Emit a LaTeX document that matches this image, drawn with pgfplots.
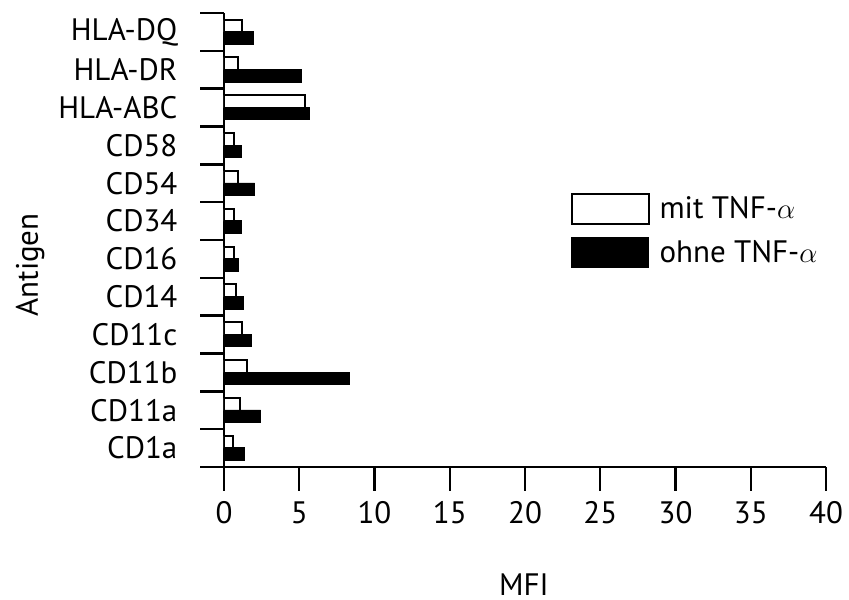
\documentclass[border=0pt]{standalone}
\usepackage{fontspec}
\setmainfont{PT Sans}
\usepackage{pgfplots}
\pgfplotsset{compat=1.18}
\usepackage{pgfplotstable}

\pgfplotstableread{
idx name  mit  ohne
0  CD1a   0.63 1.34
1  CD11a  1.05 2.43
2  CD11b  1.56 8.32
3  CD11c  1.18 1.83
4  CD14   0.83 1.30
5  CD16   0.68 0.94
6  CD34   0.65 1.18
7  CD54   0.96 2.03
8  CD58   0.68 1.14
9  HLAABC 5.35 5.70
10 HLADR  0.92 5.17
11 HLADQ  1.18 1.94
}\antigens

\newcommand{\lbl}{\fontsize{15.5}{18}\selectfont}

\begin{document}
\begin{tikzpicture}
\useasboundingbox (-112pt,-66pt) rectangle (312.5pt,233.5pt);
\begin{axis}[
    scale only axis,
    width=301pt,
    height=227pt,
    xmin=0, xmax=40,
    ymin=-0.5, ymax=11.5,
    axis x line*=bottom,
    axis y line*=left,
    axis line style={line width=1.2pt},
    xtick={0,5,...,40},
    ytick={-0.5,0.5,...,11.5},
    y tick label as interval,
    yticklabels={CD1a,CD11a,CD11b,CD11c,CD14,CD16,CD34,CD54,CD58,HLA-ABC,HLA-DR,HLA-DQ},
    major tick length=11.8pt,
    tick style={line width=1.2pt, black},
    xtick align=outside,
    ytick align=center,
    tick label style={font=\lbl},
    xticklabel shift=2pt,
    yticklabel shift=8pt,
    /pgf/number format/assume math mode=true,
    xlabel={MFI},
    ylabel={Antigen},
    every axis x label/.style={at={(axis description cs:0.498,-0.259)},anchor=center,font=\lbl},
    every axis y label/.style={at={(axis description cs:-0.322,0.445)},rotate=90,anchor=center,font=\lbl},
    xbar,
    bar width=6.3pt,
    legend style={draw=none, fill=none, font=\lbl,
        at={(axis cs:22.6,6.86)}, anchor=north west,
        row sep=5pt,
        /tikz/every odd column/.append style={column sep=3pt}},
    legend cell align=left,
    legend image code/.code={\draw[#1] (0pt,-7.5pt) rectangle (38.5pt,7.5pt);},
]
\addplot[draw=black, line width=1pt, fill=white, bar shift=3pt]
    table[x=mit, y=idx] {\antigens};
\addplot[draw=black, fill=black, bar shift=-3pt]
    table[x=ohne, y=idx] {\antigens};
\legend{mit TNF-$\alpha$, ohne TNF-$\alpha$}
\end{axis}
\end{tikzpicture}
\end{document}
